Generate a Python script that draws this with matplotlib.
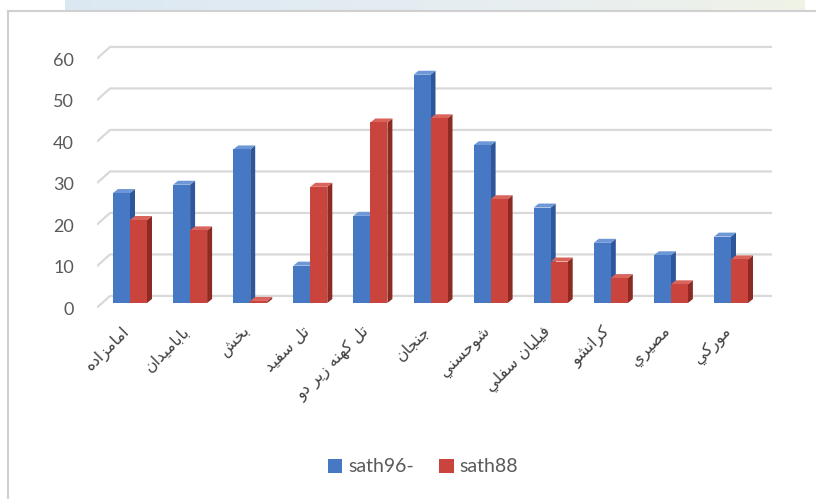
import numpy as np
import matplotlib
matplotlib.use("Agg")
import matplotlib.pyplot as plt
from matplotlib.patches import Polygon, Rectangle
from matplotlib.lines import Line2D

# ---- data -------------------------------------------------------------
categories = ["امامزاده", "بابامیدان", "بخش", "تل سفید", "تل کهنه زیر دو",
              "جنجان", "شوحسنی", "فیلیان سفلی", "کرانشو", "مصیری", "مورکی"]
sath96 = [26.5, 28.5, 37, 9, 21, 55, 38, 23, 14.5, 11.5, 16]
sath88 = [20, 17.5, 0.5, 28, 43.5, 44.5, 25, 10, 6, 4.5, 10.5]
series_names = ["sath96-", "sath88"]
y_ticks = [0, 10, 20, 30, 40, 50, 60]

# ---- minimal Arabic-script shaping (presentation forms + visual order) --
FORMS = {  # isolated, final, initial, medial
    "ا": (0xFE8D, 0xFE8E, None, None),
    "د": (0xFEA9, 0xFEAA, None, None),
    "ر": (0xFEAD, 0xFEAE, None, None),
    "ز": (0xFEAF, 0xFEB0, None, None),
    "و": (0xFEED, 0xFEEE, None, None),
    "ب": (0xFE8F, 0xFE90, 0xFE91, 0xFE92),
    "ت": (0xFE95, 0xFE96, 0xFE97, 0xFE98),
    "ج": (0xFE9D, 0xFE9E, 0xFE9F, 0xFEA0),
    "ح": (0xFEA1, 0xFEA2, 0xFEA3, 0xFEA4),
    "خ": (0xFEA5, 0xFEA6, 0xFEA7, 0xFEA8),
    "س": (0xFEB1, 0xFEB2, 0xFEB3, 0xFEB4),
    "ش": (0xFEB5, 0xFEB6, 0xFEB7, 0xFEB8),
    "ص": (0xFEB9, 0xFEBA, 0xFEBB, 0xFEBC),
    "ف": (0xFED1, 0xFED2, 0xFED3, 0xFED4),
    "ل": (0xFEDD, 0xFEDE, 0xFEDF, 0xFEE0),
    "م": (0xFEE1, 0xFEE2, 0xFEE3, 0xFEE4),
    "ن": (0xFEE5, 0xFEE6, 0xFEE7, 0xFEE8),
    "ه": (0xFEE9, 0xFEEA, 0xFEEB, 0xFEEC),
    "ک": (0xFED9, 0xFEDA, 0xFEDB, 0xFEDC),
    "ی": (0xFEF1, 0xFEF2, 0xFEF3, 0xFEF4),
}


def shape(text):
    out = []
    for i, ch in enumerate(text):
        if ch not in FORMS:
            out.append(ch)
            continue
        prev = text[i - 1] if i > 0 else None
        nxt = text[i + 1] if i + 1 < len(text) else None
        join_prev = prev in FORMS and FORMS[prev][2] is not None
        join_next = FORMS[ch][2] is not None and nxt in FORMS
        iso, fin, ini, med = FORMS[ch]
        if join_prev and join_next:
            code = med
        elif join_prev:
            code = fin
        elif join_next:
            code = ini
        else:
            code = iso
        out.append(chr(code))
    return "".join(out)[::-1]


# ---- figure -----------------------------------------------------------
W, H = 816, 499
fig = plt.figure(figsize=(W / 100, H / 100), dpi=100)
fig.patch.set_facecolor("white")

# pale banner strip along the top edge
band = fig.add_axes([65 / W, 1 - 11 / H, 740 / W, 11 / H])
grad = np.linspace(0, 1, 256)
cols = np.zeros((1, 256, 3))
cols[0, :, 0] = 0.86 + 0.08 * grad
cols[0, :, 1] = 0.91 + 0.04 * grad
cols[0, :, 2] = 0.95 - 0.05 * grad ** 4
band.imshow(cols, aspect="auto", extent=[0, 1, 0, 1])
band.axis("off")

# chart frame
fig.add_artist(Line2D([8 / W, 8 / W], [0, 1 - 11 / H], color="#d0d0d0", lw=1.5))
fig.add_artist(Line2D([8 / W, 1], [1 - 11 / H, 1 - 11 / H], color="#d0d0d0", lw=1.5))

# plot area: pixel -> data mapping (60.1 px per category, 4.15 px per unit)
px_cat, x0_px = 60.1, 130.0
px_unit, y0_px = 4.15, 303.0
left_px, right_px, top_px, bot_px = 97, 773, 40, 312
ax = fig.add_axes([left_px / W, 1 - bot_px / H, (right_px - left_px) / W, (bot_px - top_px) / H])
ax.set_xlim((left_px - x0_px) / px_cat, (right_px - x0_px) / px_cat)
ax.set_ylim((y0_px - bot_px) / px_unit, (y0_px - top_px) / px_unit)
ax.axis("off")

grid_c = "#d9d9d9"
wall_x0 = (97 - x0_px) / px_cat
wall_x1 = (110 - x0_px) / px_cat
grid_x1 = (772 - x0_px) / px_cat
for v in y_ticks:
    ax.plot([wall_x0, wall_x1, grid_x1], [v - 1.1, v + 1.7, v + 1.7],
            color=grid_c, lw=1.6, solid_capstyle="butt", zorder=1)
    ax.text((74 - x0_px) / px_cat, v - 1.6, str(v), ha="right", va="center",
            fontsize=13, color="#595959", family=["Lato", "DejaVu Sans"])

# 3-D style columns
bw = 17 / px_cat          # front face width
dx = 5 / px_cat           # depth offset (x)
dy = 4 / px_unit          # depth offset (y)
styles = [
    dict(front="#4678c4", side="#2e569a", top="#6d97d6"),
    dict(front="#c8443c", side="#8e2a24", top="#d9645c"),
]
x = np.arange(len(categories))
for s, (vals, st) in enumerate(zip([sath96, sath88], styles)):
    for xi, h in zip(x, vals):
        xa = xi - bw + s * bw
        xb = xa + bw
        z = 3 + s
        ax.add_patch(Polygon([(xb, 0), (xb + dx, dy), (xb + dx, h + dy), (xb, h)],
                             closed=True, fc=st["side"], ec="none", zorder=z))
        ax.add_patch(Polygon([(xa, h), (xa + dx, h + dy), (xb + dx, h + dy), (xb, h)],
                             closed=True, fc=st["top"], ec="none", zorder=z))
        ax.add_patch(Rectangle((xa, 0), bw, h, fc=st["front"], ec="none", zorder=z))

# category labels
for xi, name in zip(x, categories):
    ax.text(xi - 0.05, -6.3, shape(name), rotation=45, rotation_mode="anchor",
            ha="right", va="center", fontsize=11.5, color="#404040",
            family=["DejaVu Sans"], clip_on=False)

# legend
handles = [Rectangle((0, 0), 1, 1, fc=styles[0]["front"]),
           Rectangle((0, 0), 1, 1, fc=styles[1]["front"])]
fig.legend(handles, series_names, loc="center", bbox_to_anchor=(423 / W, 1 - 467 / H),
           ncol=2, frameon=False, handlelength=0.75, handleheight=0.75,
           handletextpad=0.3, columnspacing=1.3,
           prop=dict(family=["Lato", "DejaVu Sans"], size=14), labelcolor="#595959")

fig.savefig("out.png", dpi=100, facecolor="white")
